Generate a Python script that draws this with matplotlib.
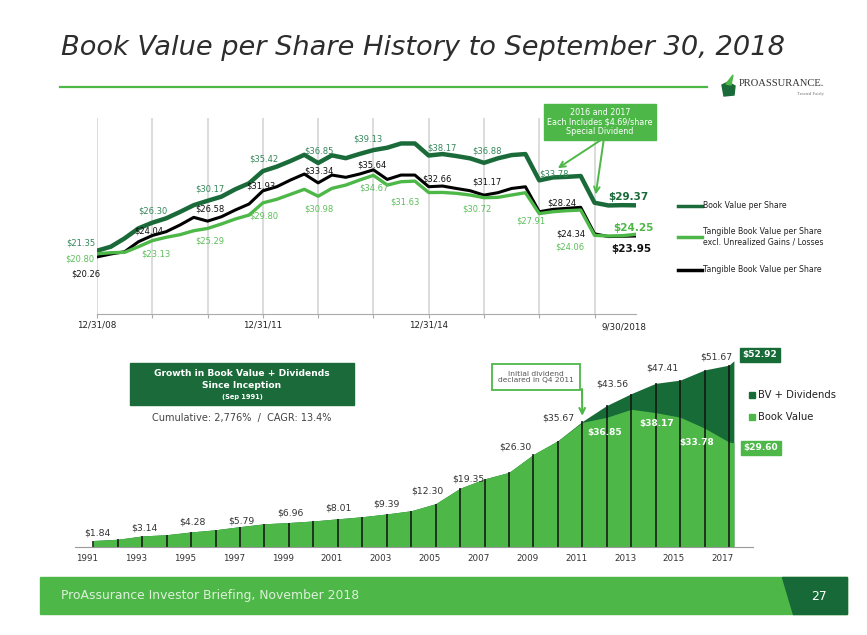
import matplotlib
matplotlib.use("Agg")
import matplotlib.pyplot as plt
from matplotlib.lines import Line2D
from matplotlib.patches import Rectangle, Polygon
import numpy as np

## Données

# graphique du haut : valeurs trimestrielles, 12/31/08 -> 9/30/18
bv = [21.35, 22.06, 23.54, 25.30, 26.30, 27.07, 28.20, 29.40, 30.17, 30.90,
      32.20, 33.26, 35.42, 36.20, 37.20, 38.30, 36.85, 38.20, 37.70, 38.45,
      39.13, 39.55, 40.30, 40.30, 38.17, 38.43, 38.08, 37.67, 36.88, 37.67,
      38.25, 38.43, 33.78, 34.30, 34.40, 34.55, 29.83, 29.35, 29.40, 29.37]
tbv = [20.26, 20.77, 21.17, 22.94, 24.04, 24.71, 25.89, 27.25, 26.58, 27.35,
       28.54, 29.60, 31.93, 32.65, 33.84, 34.90, 33.34, 34.72, 34.32, 34.90,
       35.64, 33.95, 34.72, 34.72, 32.66, 32.78, 32.35, 31.95, 31.17, 31.60,
       32.35, 32.65, 28.24, 28.66, 28.84, 29.02, 24.34, 23.85, 23.90, 23.95]
tbv_ex = [20.80, 21.00, 21.07, 22.06, 23.13, 23.72, 24.18, 24.88, 25.29, 26.07,
          26.95, 27.65, 29.80, 30.43, 31.31, 32.20, 30.98, 32.37, 32.95, 33.84,
          34.67, 32.95, 33.54, 33.65, 31.63, 31.65, 31.49, 31.19, 30.72, 30.78,
          31.19, 31.60, 27.91, 28.24, 28.42, 28.54, 24.06, 23.95, 24.00, 24.25]
quarter_labels = {0: "12/31/08", 12: "12/31/11", 24: "12/31/14"}
last_label = "9/30/2018"

# graphique du bas : BV + dividendes depuis 1991
years = [1991, 1992, 1993, 1994, 1995, 1996, 1997, 1998, 1999, 2000,
         2001, 2002, 2003, 2004, 2005, 2006, 2007, 2008, 2009, 2010,
         2011, 2012, 2013, 2014, 2015, 2016, 2017, 2017.2]
bv_div = [1.84, 2.20, 3.14, 3.50, 4.28, 4.90, 5.79, 6.60, 6.96, 7.40,
          8.01, 8.60, 9.39, 10.30, 12.30, 16.70, 19.35, 21.20, 26.30, 30.20,
          35.67, 40.20, 43.56, 46.50, 47.41, 50.30, 51.67, 52.92]
book_value = bv_div[:20] + [35.42, 36.85, 39.13, 38.17, 36.88, 33.78, 29.83, 29.60]

## Mise en page

W, H = 867, 635
DARK = '#1b6b3a'
LIGHT = '#4db848'
fig = plt.figure(figsize=(W / 100, H / 100), dpi=100)

def fx(px):
    return px / W

def fy(py):
    return 1 - py / H

fig.text(fx(61), fy(48), "Book Value per Share History to September 30, 2018",
         fontsize=19.6, style='italic', color='#2d2d2d', va='center', ha='left')
fig.add_artist(Line2D([fx(60), fx(707)], [fy(87), fy(87)], color=LIGHT, lw=1.6))

# logo
fig.add_artist(Polygon([(fx(722), fy(85)), (fx(728), fy(82)), (fx(735), fy(86)),
                        (fx(734), fy(95)), (fx(724), fy(96))], closed=True,
                       transform=fig.transFigure, color=DARK))
fig.add_artist(Polygon([(fx(726), fy(84)), (fx(733), fy(75)), (fx(731), fy(85))],
                       closed=True, transform=fig.transFigure, color=LIGHT))
fig.text(fx(739), fy(84), "PROASSURANCE.", fontsize=7.6, family='Liberation Serif',
         color='#333333', va='center', ha='left')
fig.text(fx(824), fy(94), "Treated Fairly", fontsize=3.4, family='Liberation Serif',
         color='#777777', va='center', ha='right')

# pied de page
fig.add_artist(Rectangle((fx(40), fy(614)), fx(847) - fx(40), fy(577) - fy(614),
                         transform=fig.transFigure, color=LIGHT))
fig.add_artist(Polygon([(fx(782), fy(577)), (fx(847), fy(577)), (fx(847), fy(614)),
                        (fx(793), fy(614))], closed=True,
                       transform=fig.transFigure, color='#176a37'))
fig.text(fx(61), fy(596), "ProAssurance Investor Briefing, November 2018",
         fontsize=8.9, color='#dff0db', va='center', ha='left')
fig.text(fx(819), fy(596), "27", fontsize=8.9, color='white', va='center', ha='center')

## Graphique du haut

ax1 = fig.add_axes([fx(97), fy(314), fx(636) - fx(97), fy(118) - fy(314)])
q = np.arange(len(bv))
ax1.set_xlim(0, len(bv) - 1)
ax1.set_ylim(10.17, 44.8)
for i in range(0, len(bv), 4):
    ax1.axvline(i, color='#d9d9d9', lw=1.3, zorder=0)
ax1.plot(q, bv, color=DARK, lw=3.2, solid_joinstyle='round')
ax1.plot(q, tbv, color='black', lw=2.2, solid_joinstyle='round')
ax1.plot(q, tbv_ex, color=LIGHT, lw=2.4, solid_joinstyle='round')

for s in ['top', 'left', 'right']:
    ax1.spines[s].set_visible(False)
ax1.spines['bottom'].set_color('#aaaaaa')
ax1.set_yticks([])
ticks = list(range(0, len(bv), 4))
ax1.set_xticks(ticks)
ax1.set_xticklabels([quarter_labels.get(t, "") for t in ticks], fontsize=6.3, color='#222222')
ax1.tick_params(axis='x', length=3, color='#aaaaaa', pad=2)
ax1.text(len(bv) - 1.9, -0.045, last_label, transform=ax1.get_xaxis_transform(),
         fontsize=6.3, color='#222222', ha='center', va='top')

def lab(ax, x, y, txt, off, color, size=6, weight='normal'):
    ax.annotate(txt, (x, y), xytext=(off[0], -off[1]), textcoords='offset pixels',
                ha='center', va='center', fontsize=size, color=color,
                fontweight=weight, annotation_clip=False)

bv_idx = [0, 4, 8, 12, 16, 20, 24, 28, 32]
bv_off = [(-16, -8), (1, -12), (2, -12), (1, -12), (1, -12), (-6, -11), (13, -8), (3, -12), (15, -6)]
for i, o in zip(bv_idx, bv_off):
    lab(ax1, i, bv[i], "$%.2f" % bv[i], o, '#34875a')
tbv_idx = [0, 4, 8, 12, 16, 20, 24, 28, 32, 36]
tbv_off = [(-11, 17), (-4, -4), (2, -12), (-2, -5), (1, -12), (-2, -5), (8, -8), (3, -13), (23, -9), (-24, 0)]
for i, o in zip(tbv_idx, tbv_off):
    lab(ax1, i, tbv[i], "$%.2f" % tbv[i], o, '#111111')
ex_off = [(-17, 5), (4, 13), (2, 13), (1, 13), (1, 13), (1, 13), (-24, 9), (-7, 11), (-8, 7), (-25, 12)]
for i, o in zip(tbv_idx, ex_off):
    lab(ax1, i, tbv_ex[i], "$%.2f" % tbv_ex[i], o, '#5cbf5a')
n = len(bv) - 1
lab(ax1, n, bv[n], "$%.2f" % bv[n], (-8, -8), DARK, 7.5, 'bold')
lab(ax1, n, tbv[n], "$%.2f" % tbv[n], (-5, 13), '#111111', 7.5, 'bold')
lab(ax1, n, tbv_ex[n], "$%.2f" % tbv_ex[n], (-3, -6), LIGHT, 7.5, 'bold')

# encadré dividende spécial
fig.text(fx(600), fy(122), "2016 and 2017\nEach Includes $4.69/share\nSpecial Dividend",
         fontsize=5.8, color='white', ha='center', va='center', linespacing=1.1,
         bbox=dict(boxstyle='square,pad=0.45', fc=LIGHT, ec=LIGHT))
for i, dy in [(32, 14), (36, 4)]:
    ax1.annotate("", xy=(i, bv[i]), xytext=(fx(604), fy(138)), textcoords='figure fraction',
                 arrowprops=dict(arrowstyle='->', color=LIGHT, lw=1.4,
                                 shrinkA=0, shrinkB=dy + 2), annotation_clip=False)

# légende du haut
leg = [(DARK, 206, "Book Value per Share"),
       (LIGHT, 237, "Tangible Book Value per Share\nexcl. Unrealized Gains / Losses"),
       ('black', 270, "Tangible Book Value per Share")]
for c, yy, t in leg:
    fig.add_artist(Line2D([fx(678), fx(702)], [fy(yy), fy(yy)], color=c, lw=2.5))
    fig.text(fx(703), fy(yy), t, fontsize=5.6, color='#222222', va='center', ha='left',
             linespacing=1.2)

## Graphique du bas

x0, ppy = 93.3, 24.45
ax2 = fig.add_axes([fx(75), fy(547), fx(753) - fx(75), fy(340) - fy(547)])
ax2.set_xlim(1991 - (x0 - 75) / ppy, 1991 + (753 - x0) / ppy)
ax2.set_ylim(0, 207 / 3.52)
ax2.fill_between(years, 0, bv_div, color='#176b37', lw=0)
ax2.fill_between(years, 0, book_value, color=LIGHT, lw=0)
ax2.vlines(years[:-1], 0, bv_div[:-1], color='#111111', lw=1.1)
for s in ['top', 'left', 'right']:
    ax2.spines[s].set_visible(False)
ax2.spines['bottom'].set_color('#999999')
ax2.set_yticks([])
odd = [y for y in years if int(y) == y and y % 2 == 1]
ax2.set_xticks([y - 0.25 for y in odd])
ax2.set_xticklabels([str(int(y)) for y in odd], fontsize=6.3, color='#333333')
ax2.tick_params(axis='x', length=0, pad=5)

bot_off = [(4, -8), (2, -8), (1, -10), (1, -6), (2, -10), (1, -11), (0, -10), (-8, -13),
           (-16, 0), (-18, -7), (-24, -3), (-19, -10), (-18, -12), (-13, -8)]
for y, o in zip(odd, bot_off):
    k = years.index(y)
    lab(ax2, y, bv_div[k], "$%.2f" % bv_div[k], o, '#333333', 6.7)
for y, o in zip([2012, 2014, 2016], [(-2, 15), (1, 11), (-8, 14)]):
    k = years.index(y)
    lab(ax2, y, book_value[k], "$%.2f" % book_value[k], o, 'white', 6.5, 'bold')

ax2.annotate("$%.2f" % bv_div[-1], (years[-1], bv_div[-1]), xytext=(26, 6),
             textcoords='offset pixels', ha='center', va='center', fontsize=6.5,
             fontweight='bold', color='white', annotation_clip=False,
             bbox=dict(boxstyle='square,pad=0.3', fc='#176b37', ec='#176b37'))
ax2.annotate("$%.2f" % book_value[-1], (years[-1], book_value[-1]), xytext=(27, -5),
             textcoords='offset pixels', ha='center', va='center', fontsize=6.5,
             fontweight='bold', color='white', annotation_clip=False,
             bbox=dict(boxstyle='square,pad=0.3', fc=LIGHT, ec=LIGHT))

# légende du bas
for c, yy, t in [('#176b37', 395, "BV + Dividends"), (LIGHT, 417, "Book Value")]:
    fig.add_artist(Rectangle((fx(749), fy(yy + 3)), fx(6), 6 / H,
                             transform=fig.transFigure, color=c))
    fig.text(fx(758), fy(yy), t, fontsize=7.2, color='#222222', va='center', ha='left')

# encadré titre
fig.add_artist(Rectangle((fx(130), fy(405)), fx(224), 42 / H,
                         transform=fig.transFigure, color=DARK))
fig.text(fx(242), fy(374), "Growth in Book Value + Dividends", fontsize=6.6,
         fontweight='bold', color='white', ha='center', va='center')
fig.text(fx(242), fy(386), "Since Inception", fontsize=6.6,
         fontweight='bold', color='white', ha='center', va='center')
fig.text(fx(242), fy(397), "(Sep 1991)", fontsize=4.8,
         fontweight='bold', color='white', ha='center', va='center')
fig.text(fx(242), fy(418), "Cumulative: 2,776%  /  CAGR: 13.4%", fontsize=7,
         color='#444444', ha='center', va='center')

# encadré premier dividende
fig.text(fx(536), fy(377), "Initial dividend\ndeclared in Q4 2011", fontsize=5.4,
         color='#555555', ha='center', va='center', linespacing=1.15,
         bbox=dict(boxstyle='square,pad=0.85', fc='white', ec=LIGHT, lw=1.3))
k = years.index(2011)
ax2.annotate("", xy=(years[k], bv_div[k]), xytext=(fx(582), fy(389)),
             textcoords='figure fraction',
             arrowprops=dict(arrowstyle='->', color=LIGHT, lw=1.5, shrinkA=0, shrinkB=4),
             annotation_clip=False)

fig.savefig("out.png", dpi=100)
